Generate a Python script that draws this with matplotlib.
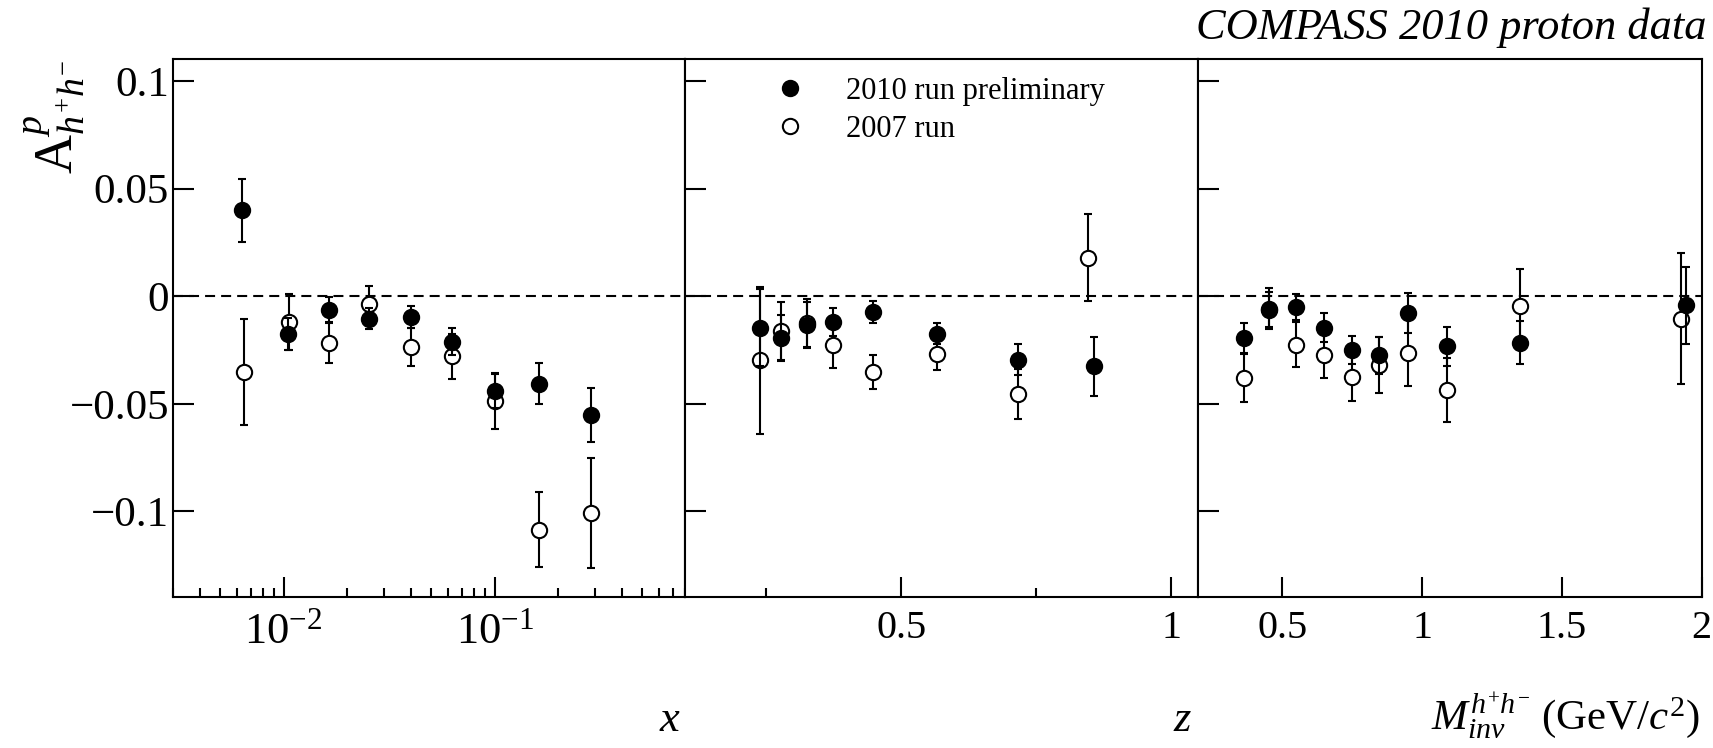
import numpy as np
import matplotlib
matplotlib.use("Agg")
import matplotlib.pyplot as plt
from matplotlib.lines import Line2D
from matplotlib.ticker import FixedLocator, FuncFormatter, LogLocator, LogFormatterMathtext, NullFormatter

plt.rcParams['font.family'] = ['Liberation Serif', 'DejaVu Serif']
plt.rcParams['mathtext.fontset'] = 'custom'
plt.rcParams['mathtext.rm'] = 'Liberation Serif'
plt.rcParams['mathtext.it'] = 'Liberation Serif:italic'
plt.rcParams['mathtext.bf'] = 'Liberation Serif:bold'

# --- data: asymmetry vs x ---
x_2010 = [0.00635, 0.0105, 0.0164, 0.0255, 0.040, 0.0627, 0.1006, 0.162, 0.286]
A_2010_x = [0.040, -0.0177, -0.0062, -0.0104, -0.0096, -0.0212, -0.044, -0.0406, -0.0553]
e_2010_x = [0.0147, 0.0075, 0.006, 0.0048, 0.005, 0.0063, 0.0079, 0.0096, 0.0126]
x_2007 = [0.00648, 0.0106, 0.0164, 0.0255, 0.040, 0.0627, 0.1006, 0.162, 0.286]
A_2007_x = [-0.0352, -0.012, -0.0216, -0.0036, -0.0236, -0.0279, -0.0487, -0.1084, -0.1006]
e_2007_x = [0.0244, 0.013, 0.0095, 0.0083, 0.0087, 0.0105, 0.013, 0.0174, 0.0255]

# --- data: asymmetry vs z ---
z_2010 = [0.238, 0.277, 0.325, 0.374, 0.447, 0.566, 0.716, 0.856]
A_2010_z = [-0.0146, -0.0194, -0.0132, -0.012, -0.0073, -0.0174, -0.0296, -0.0326]
e_2010_z = [0.018, 0.0105, 0.0107, 0.0066, 0.005, 0.0048, 0.0072, 0.0137]
z_2007 = [0.238, 0.277, 0.325, 0.374, 0.447, 0.566, 0.716, 0.846]
A_2007_z = [-0.0298, -0.0163, -0.0124, -0.0228, -0.0352, -0.0267, -0.0453, 0.018]
e_2007_z = [0.034, 0.0135, 0.011, 0.0105, 0.008, 0.0077, 0.0116, 0.0202]

# --- data: asymmetry vs invariant mass ---
m_2010 = [0.362, 0.453, 0.551, 0.651, 0.749, 0.847, 0.949, 1.089, 1.349, 1.943]
A_2010_m = [-0.0194, -0.0057, -0.005, -0.0146, -0.0248, -0.0274, -0.0078, -0.0233, -0.0217, -0.0042]
e_2010_m = [0.007, 0.0095, 0.006, 0.0066, 0.0065, 0.0085, 0.0095, 0.009, 0.01, 0.018]
m_2007 = [0.362, 0.453, 0.551, 0.651, 0.749, 0.847, 0.949, 1.089, 1.349, 1.925]
A_2007_m = [-0.038, -0.0062, -0.0225, -0.0271, -0.0375, -0.0321, -0.0262, -0.0437, -0.0045, -0.0104]
e_2007_m = [0.0113, 0.008, 0.0105, 0.0107, 0.011, 0.013, 0.0157, 0.0148, 0.017, 0.0305]

yticks = [-0.1, -0.05, 0, 0.05, 0.1]

W, H = 1713, 748
fig = plt.figure(figsize=(W / 100, H / 100), dpi=100)

bot = 1 - 596.7 / H
hgt = (596.7 - 59.3) / H
ax1 = fig.add_axes([173.2 / W, bot, (685.3 - 173.2) / W, hgt])
ax2 = fig.add_axes([685.3 / W, bot, (1198.3 - 685.3) / W, hgt])
ax3 = fig.add_axes([1198.3 / W, bot, (1701.7 - 1198.3) / W, hgt])

panels = [
    (ax1, x_2010, A_2010_x, e_2010_x, x_2007, A_2007_x, e_2007_x),
    (ax2, z_2010, A_2010_z, e_2010_z, z_2007, A_2007_z, e_2007_z),
    (ax3, m_2010, A_2010_m, e_2010_m, m_2007, A_2007_m, e_2007_m),
]

for ax, xa, ya, ea, xb, yb, eb in panels:
    ax.axhline(0, color='black', lw=1.5, ls=(0, (4.8, 2.9)), zorder=1)
    # 2007 run first (open), then 2010 (filled) on top
    ax.errorbar(xb, yb, yerr=eb, fmt='o', ms=11, mfc='white', mec='black', mew=1.5,
                ecolor='black', elinewidth=1.5, capsize=3.2, capthick=1.5, zorder=3)
    ax.errorbar(xa, ya, yerr=ea, fmt='o', ms=11, mfc='black', mec='black', mew=1.5,
                ecolor='black', elinewidth=1.5, capsize=3.2, capthick=1.5, zorder=4)
    ax.set_ylim(-0.1396, 0.1101)
    ax.yaxis.set_major_locator(FixedLocator(yticks))
    ax.tick_params(axis='y', which='major', direction='in', length=15, width=1.5,
                   left=True, right=False, labelsize=31, pad=3)
    ax.tick_params(axis='x', which='major', direction='in', length=14.4, width=1.5,
                   top=False, labelsize=29, pad=9.5)
    ax.tick_params(axis='x', which='minor', direction='in', length=6.7, width=1.5, top=False)
    for s in ax.spines.values():
        s.set_linewidth(1.5)

ax1.yaxis.set_major_formatter(FuncFormatter(lambda v, p: ('%g' % v).replace('-', '\u2212')))
ax2.set_yticklabels([])
ax3.set_yticklabels([])

# x panel: log scale
ax1.set_xscale('log')
ax1.set_xlim(0.003, 0.8)
ax1.xaxis.set_major_locator(LogLocator(base=10))
ax1.xaxis.set_major_formatter(LogFormatterMathtext())
ax1.xaxis.set_minor_locator(LogLocator(base=10, subs=np.arange(2, 10)))
ax1.xaxis.set_minor_formatter(NullFormatter())
ax1.tick_params(axis='x', which='major', labelsize=32, pad=11)

# z panel
ax2.set_xlim(0.1, 1.05)
ax2.xaxis.set_major_locator(FixedLocator([0.5, 1.0]))
ax2.xaxis.set_minor_locator(FixedLocator([0.25, 0.75]))
ax2.xaxis.set_major_formatter(FuncFormatter(lambda v, p: '%g' % v))

# mass panel
ax3.set_xlim(0.2, 2.0)
ax3.xaxis.set_major_locator(FixedLocator([0.5, 1.0, 1.5, 2.0]))
ax3.xaxis.set_major_formatter(FuncFormatter(lambda v, p: '%g' % v))

# axis labels
ax1.set_ylabel(r'$\mathrm{A}^{p}_{h^{+}h^{-}}$', fontsize=39, loc='top')
ax1.yaxis.set_label_coords(-0.168, 1.0)
ax1.text(0.9916, -0.2499, r'$x$', transform=ax1.transAxes, ha='right', va='baseline', fontsize=32)
ax2.text(0.9877, -0.2499, r'$z$', transform=ax2.transAxes, ha='right', va='baseline', fontsize=32)
ax3.text(0.9966, -0.248, r'$M_{inv}^{h^{+}h^{-}}$ (GeV/$c^{2}$)', transform=ax3.transAxes,
         ha='right', va='baseline', fontsize=31)

fig.text(1706 / W, 1 - 39 / H, 'COMPASS 2010 proton data', ha='right', va='baseline',
         fontsize=32, style='italic')

handles = [
    Line2D([], [], ls='none', marker='o', ms=11, mfc='black', mec='black', mew=1.5),
    Line2D([], [], ls='none', marker='o', ms=11, mfc='white', mec='black', mew=1.5),
]
ax2.legend(handles, ['2010 run preliminary', '2007 run'], loc='upper left',
           bbox_to_anchor=(0.15, 0.99), frameon=False, fontsize=22,
           handlelength=1.0, handletextpad=1.35, labelspacing=0.3, borderaxespad=0)

fig.savefig('out.png', dpi=100)
